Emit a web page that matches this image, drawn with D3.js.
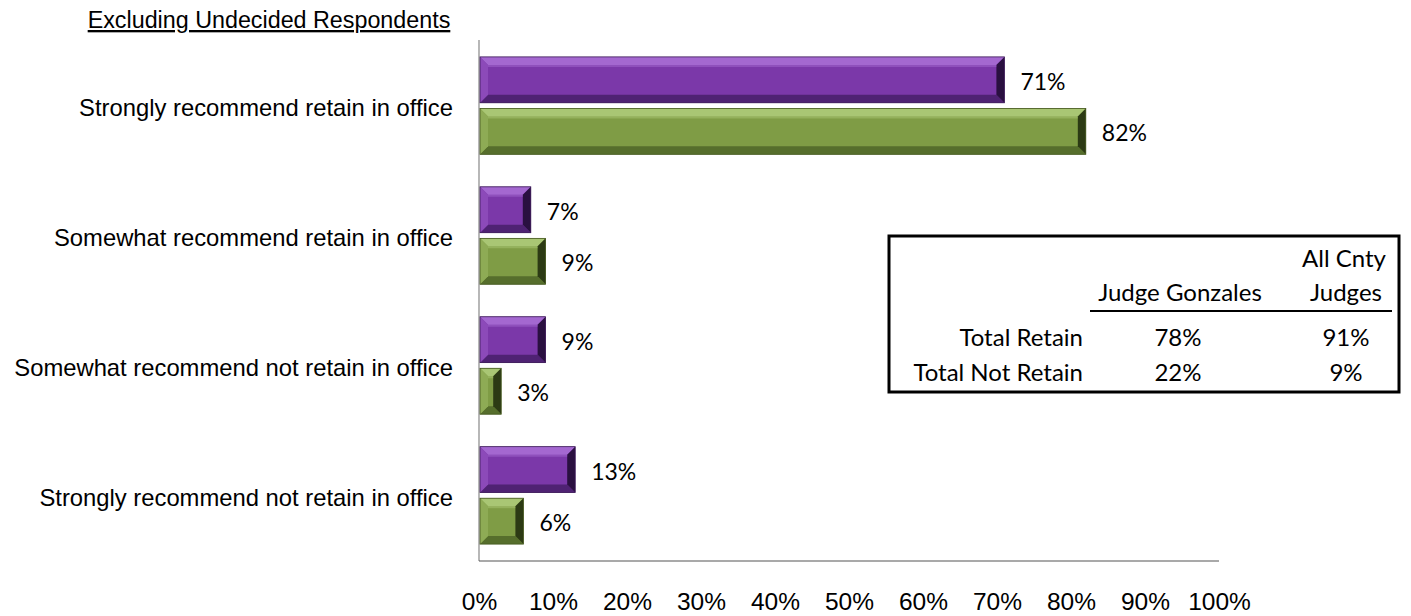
<!DOCTYPE html>
<html><head><meta charset="utf-8">
<script src="https://cdn.jsdelivr.net/npm/d3@7"></script>
<style>body{margin:0;background:#fff}svg{display:block}</style>
</head><body>
<svg id="c" width="1411" height="616"></svg>
<script>
const categories = ["Strongly recommend retain in office","Somewhat recommend retain in office","Somewhat recommend not retain in office","Strongly recommend not retain in office"];
const seriesNames = ["Judge Gonzales","All Cnty Judges"];
const gonzales = [71, 7, 9, 13];
const allJudges = [82, 9, 3, 6];
const tickValues = [0,10,20,30,40,50,60,70,80,90,100];
const tableRows = ["Total Retain","Total Not Retain"];
const tableGonzales = ["78%","22%"];
const tableAll = ["91%","9%"];

const svg = d3.select("#c");
const x = d3.scaleLinear().domain([0,100]).range([479,1219]);
const y = d3.scaleBand().domain(categories).range([40,561]).paddingInner(0.25).paddingOuter(0.13);
const sub = d3.scaleBand().domain([0,1]).range([0,y.bandwidth()]).paddingInner(0.11);

const styles = [
  {face:"#7b38a9", top:"#a468d0", bottom:"#4f2273", left:"#8c4ab9", right:"#2a1040", stroke:"#3b1a56"},
  {face:"#7f9c45", top:"#a9c674", bottom:"#566e2c", left:"#8eab55", right:"#2c3a14", stroke:"#44561f"}
];

// title
svg.append("text").attr("x",269).attr("y",28).attr("text-anchor","middle")
  .attr("font-family","Liberation Sans, Arial").attr("font-size",23.3)
  .attr("text-decoration","underline").text("Excluding Undecided Respondents");

// axes lines
svg.append("line").attr("x1",x(0)).attr("x2",x(0)).attr("y1",40).attr("y2",561).attr("stroke","#888").attr("stroke-width",1.2);
svg.append("line").attr("x1",x(0)).attr("x2",x(100)).attr("y1",561).attr("y2",561).attr("stroke","#555").attr("stroke-width",1.2);

// tick labels
const xAxis = d3.axisBottom(x).tickValues(tickValues).tickFormat(d=>d+"%").tickSize(0);
const gx = svg.append("g").attr("transform","translate(0,610)").call(xAxis);
gx.select(".domain").remove();
gx.selectAll("text").attr("font-family","Liberation Sans, Arial").attr("font-size",24.5).attr("fill","#000").attr("y",0).attr("dy",0);

// category labels
svg.append("g").selectAll("text").data(categories).join("text")
  .attr("x",453).attr("y",d=>y(d)+ y.bandwidth()/2 + 2).attr("dy","0.35em")
  .attr("text-anchor","end").attr("font-family","Liberation Sans, Arial").attr("font-size",23.8)
  .text(d=>d);

const b = 8;
function drawBar(g, x0, x1, y0, h, st){
  const w = x1-x0;
  const bb = Math.min(b, w/2, h/2);
  g.append("rect").attr("x",x0).attr("y",y0).attr("width",w).attr("height",h).attr("fill",st.face);
  g.append("polygon").attr("points",[[x0,y0],[x1,y0],[x1-bb,y0+bb],[x0+bb,y0+bb]].join(" ")).attr("fill",st.top);
  g.append("polygon").attr("points",[[x0,y0+h],[x1,y0+h],[x1-bb,y0+h-bb],[x0+bb,y0+h-bb]].join(" ")).attr("fill",st.bottom);
  g.append("polygon").attr("points",[[x0,y0],[x0+bb,y0+bb],[x0+bb,y0+h-bb],[x0,y0+h]].join(" ")).attr("fill",st.left);
  g.append("polygon").attr("points",[[x1,y0],[x1-bb,y0+bb],[x1-bb,y0+h-bb],[x1,y0+h]].join(" ")).attr("fill",st.right);
  g.append("line").attr("x1",x0+bb).attr("x2",x1-bb).attr("y1",y0+bb+1).attr("y2",y0+bb+1).attr("stroke",st.top).attr("stroke-opacity",0.5).attr("stroke-width",2);
  g.append("rect").attr("x",x0).attr("y",y0).attr("width",w).attr("height",h).attr("fill","none").attr("stroke",st.stroke).attr("stroke-width",0.8);
}

const series = [gonzales, allJudges];
const gb = svg.append("g");
categories.forEach((c,i)=>{
  series.forEach((s,j)=>{
    const y0 = y(c)+sub(j);
    drawBar(gb, x(0)+1, x(s[i]), y0, sub.bandwidth(), styles[j]);
    gb.append("text").attr("x",x(s[i])+16).attr("y",y0+sub.bandwidth()/2+2).attr("dy","0.35em")
      .attr("font-family","Lato, Open Sans, sans-serif").attr("font-size",23).text(s[i]+"%");
  });
});

// table
const tg = svg.append("g").attr("font-family","Lato, Open Sans, sans-serif").attr("font-size",24);
tg.append("rect").attr("x",889).attr("y",236).attr("width",510).attr("height",156).attr("fill","#fff").attr("stroke","#000").attr("stroke-width",3);
tg.append("text").attr("x",1344).attr("y",267).attr("text-anchor","middle").text("All Cnty");
tg.append("text").attr("x",1346).attr("y",301).attr("text-anchor","middle").text("Judges");
tg.append("text").attr("x",1180).attr("y",301).attr("text-anchor","middle").text(seriesNames[0]);
tg.append("line").attr("x1",1090).attr("x2",1392).attr("y1",311).attr("y2",311).attr("stroke","#000").attr("stroke-width",2);
tableRows.forEach((r,i)=>{
  const yy = 346 + i*35;
  tg.append("text").attr("x",1083).attr("y",yy).attr("text-anchor","end").text(r);
  tg.append("text").attr("x",1178).attr("y",yy).attr("text-anchor","middle").text(tableGonzales[i]);
  tg.append("text").attr("x",1346).attr("y",yy).attr("text-anchor","middle").text(tableAll[i]);
});
</script>
</body></html>
